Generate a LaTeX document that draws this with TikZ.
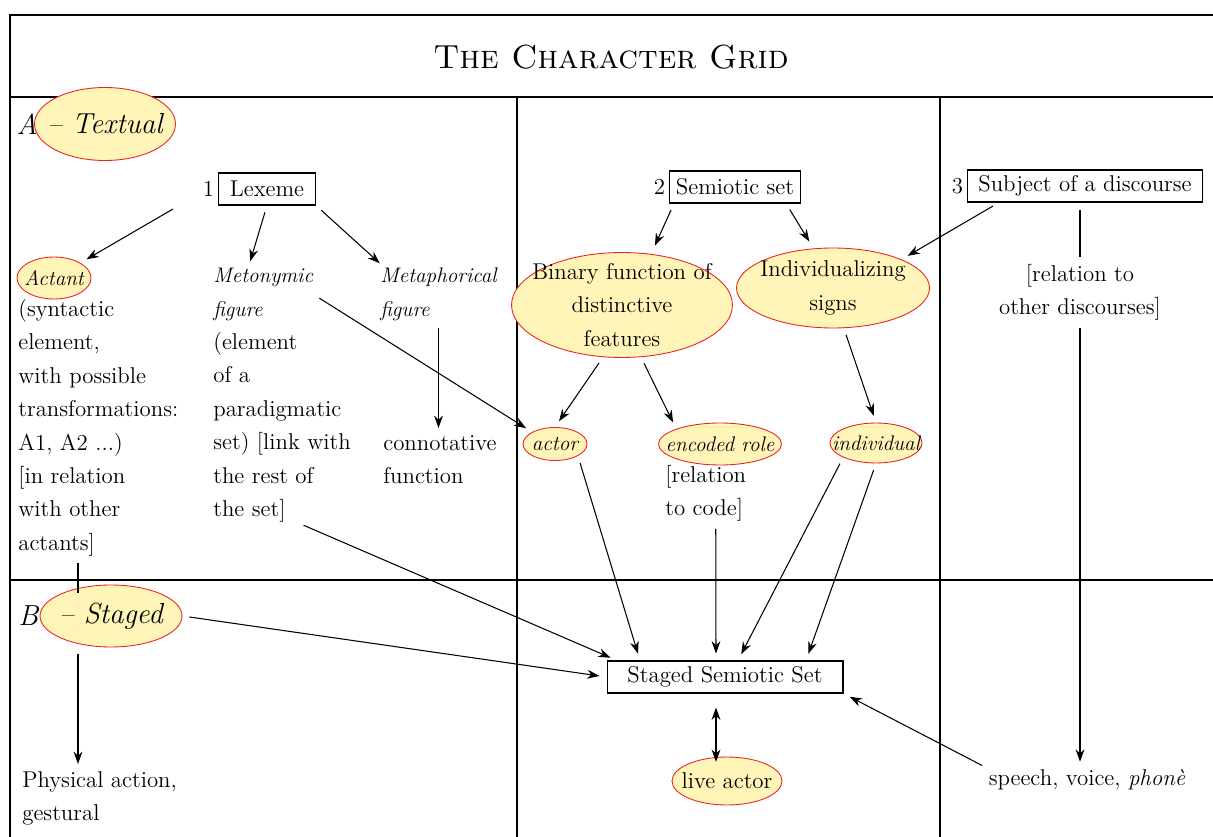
\documentclass[tikz,border=0pt]{standalone}
\usetikzlibrary{arrows.meta, shapes.geometric, positioning}

\definecolor{hlfill}{RGB}{255,245,185}
\definecolor{hlline}{RGB}{235,35,35}
\newcommand{\bodyfont}{\fontsize{13}{19}\selectfont}
\newcommand{\headfont}{\fontsize{16.5}{20}\selectfont\itshape}
\newcommand{\tagfont}{\fontsize{12}{19}\selectfont\itshape}

\begin{document}
\begin{tikzpicture}[x=0.02cm, y=-0.02cm,
    frame/.style={line width=0.75pt},
    plain/.style={line width=0.6pt, shorten <=4pt, shorten >=4pt},
    link/.style={plain, -{Stealth[length=7pt, width=5pt]}},
    hl/.style={ellipse, draw=hlline, fill=hlfill, line width=0.5pt, inner sep=-12pt},
    txt/.style={font=\bodyfont, inner sep=0pt, align=left, anchor=north west},
    box/.style={draw, line width=0.6pt, font=\bodyfont, inner sep=0pt, minimum height=0.64cm}]
\useasboundingbox (0,0) rectangle (1213,837);

\draw[frame] (1213,15) -- (10,15) -- (10,837);
\draw[frame] (10,97) -- (1213,97);
\draw[frame] (10,580) -- (1213,580);
\draw[frame] (517,97) -- (517,837);
\draw[frame] (940,97) -- (940,837);
\node[font=\fontsize{19}{22}\selectfont] (title) at (611,57) {\textsc{The Character Grid}};

\node[hl, font=\headfont, minimum width=2.82cm, minimum height=1.46cm] (textual) at (105,124) {-- Textual};
\node[font=\headfont, anchor=east, inner sep=0pt] (secA) at ([xshift=0.08cm]textual.west) {A};
\node[hl, font=\headfont, minimum width=2.84cm, minimum height=1.24cm] (staged) at (111,616) {-- Staged};
\node[font=\headfont, anchor=east, inner sep=0pt] (secB) at ([xshift=-0.02cm]staged.west) {B};

\node[box, minimum width=1.94cm] (lex) at (267,189) {Lexeme};
\node[font=\bodyfont, left=2pt of lex, inner sep=0pt] (lexNum) {1};
\node[box, minimum width=2.62cm] (sem) at (735,187) {Semiotic set};
\node[font=\bodyfont, left=2pt of sem, inner sep=0pt] (semNum) {2};
\node[box, minimum width=4.7cm] (subj) at (1085,186) {Subject of a discourse};
\node[font=\bodyfont, left=2pt of subj, inner sep=0pt] (subjNum) {3};

\node[hl, font=\tagfont, minimum width=1.48cm, minimum height=0.84cm] (actant) at (54,278) {Actant};
\node[txt] (actantTxt) at (18,299) {(syntactic\\element,\\with possible\\transformations:\\A1, A2 ...)\\{[}in relation\\with other\\actants]};
\node[txt, font=\tagfont] (metoHead) at (213,268) {Metonymic\\figure};
\node[txt] (metoBody) at (213,332) {(element\\of a\\paradigmatic\\set) [link with\\the rest of\\the set]};
\node[txt, font=\tagfont] (metaHead) at (380,268) {Metaphorical\\figure};
\node[txt] (metaBody) at (383,435) {connotative\\function};

\node[hl, font=\bodyfont, align=center, minimum width=4.42cm, minimum height=2.1cm] (binary) at (622,305) {Binary function of\\distinctive\\features};
\node[hl, font=\bodyfont, align=center, minimum width=3.86cm, minimum height=1.6cm] (indiv) at (833,288) {Individualizing\\signs};
\node[hl, font=\tagfont, minimum width=1.28cm, minimum height=0.66cm] (actor) at (555,444) {actor};
\node[hl, font=\tagfont, minimum width=2.46cm, minimum height=0.84cm] (encoded) at (720,444) {encoded role};
\node[hl, font=\tagfont, minimum width=1.84cm, minimum height=0.8cm] (individual) at (876,443) {individual};
\node[txt] (encTxt) at (665,465) {{[}relation\\to code]};
\node[txt, align=center, anchor=north] (relTxt) at (1080,264) {{[}relation to\\other discourses]};

\node[box, minimum width=4.72cm] (ssset) at (725,677) {Staged Semiotic Set};
\node[hl, font=\bodyfont, minimum width=2.2cm, minimum height=0.96cm] (live) at (727,781) {live actor};
\node[txt] (phys) at (22,771) {Physical action,\\gestural};
\node[font=\bodyfont, anchor=base, inner sep=0pt] (speech) at (1087,785) {speech, voice, \textit{phon\`e}};
\coordinate (bl) at (78,0);

\draw[link] ([xshift=-0.78cm]lex.south west) -- (actant.north east);
\draw[link] (lex.south) -- ([xshift=-0.3cm]metoHead.north);
\draw[link] (lex.south east) -- ([xshift=0.1cm]metaHead.north west);
\draw[link] (metaHead.south) -- (metaHead.south |- metaBody.north);
\draw[link] (metoHead.east) -- (actor.north west);
\draw[link] ([xshift=0.1cm]sem.south west) -- ([xshift=0.6cm]binary.north);
\draw[link] ([xshift=-0.3cm]sem.south east) -- ([xshift=-0.4cm]indiv.north);
\draw[link] ([xshift=0.64cm]subj.south west) -- (indiv.north east);
\draw[plain] (relTxt.north |- subj.south) -- (relTxt.north);
\draw[link] (relTxt.south) -- (relTxt.south |- speech.north);
\draw[link] (binary.250) -- (actor.north);
\draw[link] (binary.290) -- (encoded.north west);
\draw[link] (indiv.285) -- (individual.north);
\draw[link] (actor.south east) -- ([xshift=-1.7cm]ssset.north);
\draw[link] ([xshift=0.3cm]metoBody.south) -- ([xshift=-2.16cm]ssset.north);
\draw[link] ([xshift=0.2cm]encTxt.south) -- ([xshift=-0.18cm]ssset.north);
\draw[link] (individual.south west) -- ([xshift=0.26cm]ssset.north);
\draw[link] (individual.south) -- ([xshift=1.62cm]ssset.north);
\draw[link] (staged.east) -- (ssset.west);
\draw[link] (speech.north west) -- (ssset.south east);
\draw[plain, {Stealth[length=7pt, width=5pt]}-{Stealth[length=7pt, width=5pt]}, shorten <=8pt, shorten >=-3pt] ([xshift=-0.18cm]ssset.south) -- ([xshift=-0.18cm]ssset.south |- live.north);
\draw[plain, shorten >=-5pt] (bl |- actantTxt.south) -- (bl |- staged.north);
\draw[link] (bl |- staged.south) -- (bl |- phys.north);
\end{tikzpicture}
\end{document}
